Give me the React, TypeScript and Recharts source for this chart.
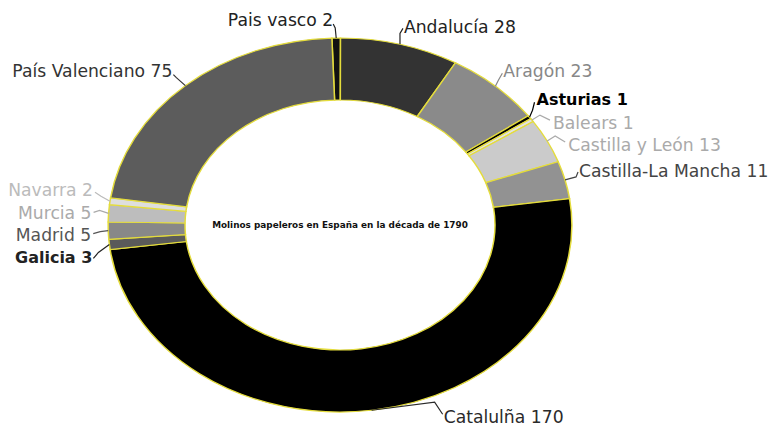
import React from 'react';
import { PieChart, Pie, Cell } from 'recharts';

const regions = [
  'Pais vasco',
  'Andalucía',
  'Aragón',
  'Asturias',
  'Balears',
  'Castilla y León',
  'Castilla-La Mancha',
  'Catalulña',
  'Galicia',
  'Madrid',
  'Murcia',
  'Navarra',
  'País Valenciano',
];
const mills = [2, 28, 23, 1, 1, 13, 11, 170, 3, 5, 5, 2, 75];
const title = 'Molinos papeleros en España en la década de 1790';

const sliceFills = ['#111', '#333', '#8a8a8a', '#000', '#e2e2e2', '#cbcbcb', '#929292', '#000', '#5a5a5a', '#888', '#bdbdbd', '#dedede', '#5c5c5c'];
const labelColors = ['#222', '#222', '#888', '#000', '#aaa', '#aaa', '#444', '#2a2a2a', '#222', '#555', '#aaa', '#bbb', '#333'];
const labelWeights = [400, 400, 400, 700, 400, 400, 400, 400, 700, 400, 400, 400, 400];

// offsets from each slice's outer edge: elbow, line end, text point
const labelLayout = [
  { elbow: [-1, -10], end: [-3, -14], text: [-3, -18], anchor: 'end' },
  { elbow: [0, -11], end: [3, -16], text: [4, -17.5], anchor: 'start' },
  { elbow: [3, -6], end: [7, -13], text: [8, -15], anchor: 'start' },
  { elbow: [3, -7], end: [5, -15], text: [7, -18], anchor: 'start' },
  { elbow: [8, -5], end: [18, 0], text: [21, 2.5], anchor: 'start' },
  { elbow: [8, -5], end: [18, 1], text: [21, 3.5], anchor: 'start' },
  { elbow: [11, -3], end: [13, -8], text: [14, -9], anchor: 'start' },
  { elbow: [63, -8], end: [71, 4], text: [72, 6.5], anchor: 'start' },
  { elbow: [-11, 8], end: [-16, 14], text: [-17, 13], anchor: 'end' },
  { elbow: [-8, 1], end: [-15, 3], text: [-17, 4], anchor: 'end' },
  { elbow: [-9, -3], end: [-15, -1], text: [-17, -0.5], anchor: 'end' },
  { elbow: [-9, -5], end: [-15, -9], text: [-17, -11], anchor: 'end' },
  { elbow: [-9, -8], end: [-12, -11], text: [-13, -15], anchor: 'end' },
];

const CX = 340;
const CY = 225;
const STRETCH = 1.24;
const RAD = Math.PI / 180;
const FONT = '"DejaVu Sans", sans-serif';

const data = regions.map((name, i) => ({ name, value: mills[i] }));

const renderLabel = (props: any) => {
  const { cx, cy, midAngle, outerRadius } = props;
  let idx = typeof props.index === 'number' ? props.index : regions.indexOf(props.name);
  if (idx < 0) idx = regions.indexOf(props.payload?.name);
  const l = labelLayout[idx];
  const ax = cx + outerRadius * STRETCH * Math.cos(-midAngle * RAD);
  const ay = cy + outerRadius * Math.sin(-midAngle * RAD);
  const pts = [
    [ax, ay],
    [ax + l.elbow[0], ay + l.elbow[1]],
    [ax + l.end[0], ay + l.end[1]],
  ];
  const bold = labelWeights[idx] > 400;
  return (
    <g key={`lbl-${idx}`}>
      <polyline
        points={pts.map((p) => p.join(',')).join(' ')}
        fill="none"
        stroke={labelColors[idx]}
        strokeWidth={1.2}
      />
      <text
        x={ax + l.text[0]}
        y={ay + l.text[1]}
        textAnchor={l.anchor}
        dominantBaseline="central"
        fill={labelColors[idx]}
        fontSize={bold ? 16 : 17.2}
        fontWeight={labelWeights[idx]}
        fontFamily={FONT}
      >
        {`${regions[idx]} ${mills[idx]}`}
      </text>
    </g>
  );
};

export default function App() {
  return (
    <div style={{ position: 'absolute', left: 0, top: 0, width: 772, height: 426, background: '#fff' }}>
      <style>{`.recharts-pie-sector { transform-origin: ${CX}px ${CY}px; transform: scaleX(${STRETCH}); }`}</style>
      <PieChart width={772} height={426} margin={{ top: 0, right: 0, bottom: 0, left: 0 }}>
        <Pie
          data={data}
          dataKey="value"
          nameKey="name"
          cx={CX}
          cy={CY}
          outerRadius={187}
          innerRadius={125}
          startAngle={92}
          endAngle={-268}
          stroke="#e4dc3c"
          strokeWidth={1.2}
          label={renderLabel}
          labelLine={false}
          isAnimationActive={false}
        >
          {data.map((d, i) => (
            <Cell key={d.name} fill={sliceFills[i]} />
          ))}
        </Pie>
      </PieChart>
      <div
        style={{
          position: 'absolute',
          left: CX - 200,
          top: CY - 8,
          width: 400,
          height: 16,
          lineHeight: '16px',
          textAlign: 'center',
          fontFamily: FONT,
          fontSize: 8.9,
          fontWeight: 700,
          color: '#111',
          whiteSpace: 'nowrap',
        }}
      >
        {title}
      </div>
    </div>
  );
}
